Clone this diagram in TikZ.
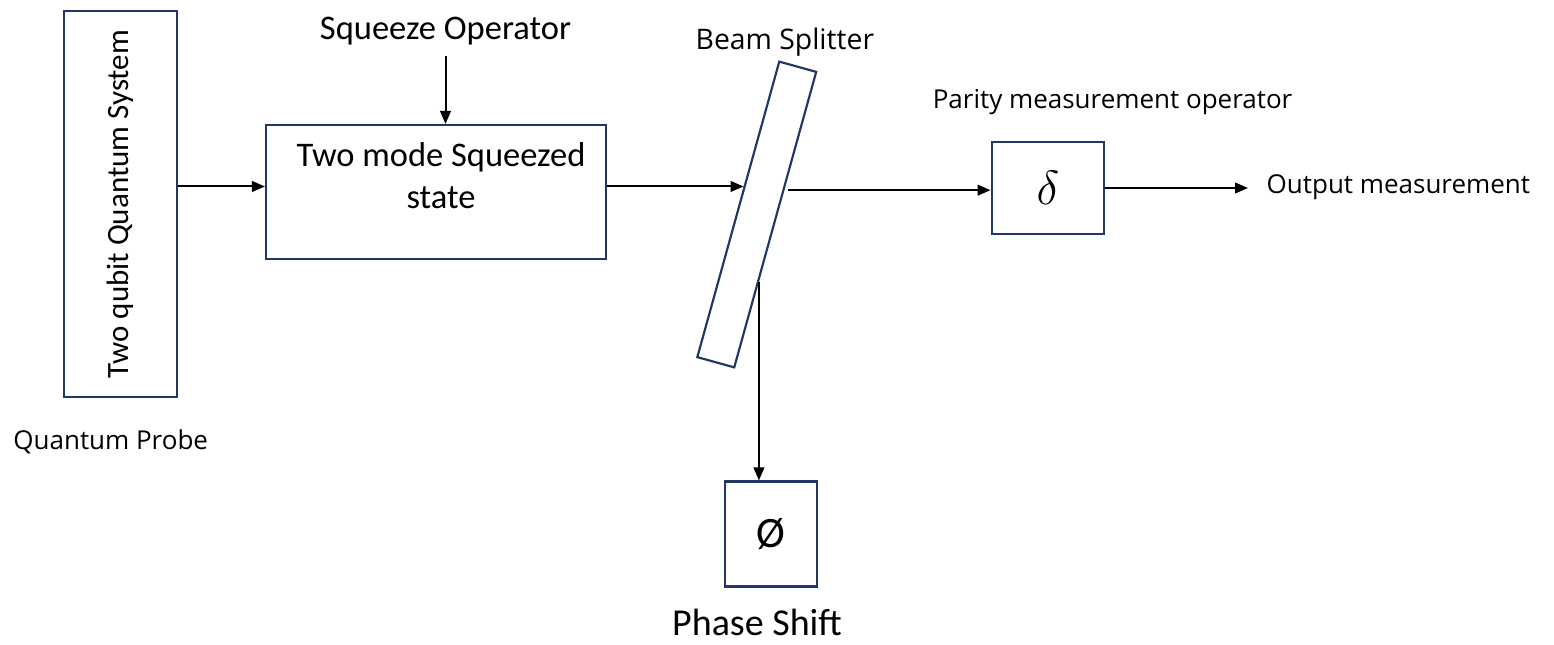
\documentclass[tikz,border=0pt]{standalone}
\usepackage{fontspec}
\setmainfont{Carlito}
\newfontfamily\segoefont{Open Sans}
\usetikzlibrary{arrows.meta,calc,positioning}
\definecolor{boxblue}{HTML}{1F3864}

\begin{document}
\begin{tikzpicture}[x=0.3pt,y=0.3pt,
		blk/.style={draw=boxblue, line width=0.65pt, inner sep=0pt},
		arr/.style={-{Triangle[length=3.9pt,width=3.2pt]}, line width=0.6pt},
		cal/.style={font=\fontsize{10.35}{12.6}\selectfont, inner sep=0pt},
		seg/.style={font=\segoefont\fontsize{7.8}{9.4}\selectfont, inner sep=0pt}]
		\useasboundingbox (0,0) rectangle (1554,-644);
		% boxes
		\node[blk, rotate=90, minimum width=115.8pt, minimum height=33.9pt, font=\fontsize{9.3}{11}\selectfont] (qs) at (120.5,-204) {Two qubit Quantum System};
		\node[blk, minimum width=102pt, minimum height=40.2pt,
			label={[cal, name=sqt, anchor=north, align=center, yshift=-5.4pt, xshift=1.5pt]north:Two mode Squeezed\\state}] (sq) at (436,-192) {};
		\node[blk, rotate=-15.5, minimum width=11.5pt, minimum height=92pt] (bs) at (756.75,-214.5) {};
		\node[blk, minimum width=33.8pt, minimum height=27.7pt, font=\fontsize{15}{15}\selectfont] (par) at (1048,-188) {$\delta$};
		\node[blk, minimum width=27.6pt, minimum height=31.5pt, font=\fontsize{13}{13}\selectfont] (ph) at (771,-534) {Ø};
		% labels
		\node[cal, anchor=base] (sqop) at (445.5,-40) {Squeeze Operator};
		\node[seg, anchor=base west, font=\segoefont\fontsize{8.5}{10}\selectfont] (bsl) at (695,-50) {Beam Splitter};
		\node[seg, anchor=base east] (parl) at (1293,-108) {Parity measurement operator};
		\node[seg, anchor=base west] (outl) at (1266,-193) {Output measurement};
		\node[seg, anchor=base west] (qpl) at (12.7,-449) {Quantum Probe};
		\node[cal, anchor=base, font=\fontsize{11.4}{13}\selectfont] (phl) at (757,-635) {Phase Shift};
		% points on the beam splitter
		\coordinate (bsin) at ($(bs.north west)!0.424!(bs.south west)$);
		\coordinate (bsout) at ($(bs.north east)!0.4!(bs.south east)$);
		\coordinate (bsdn) at ($(bs.north east)!0.71!(bs.south east)$);
		\coordinate (outp) at (1248,-188);
		% connectors
		\draw[arr] ([yshift=-3pt]sqop.south) -- (sqop.south |- sq.north);
		\draw[arr] (qs.south |- bsin) -- (sq.west |- bsin);
		\draw[arr] (sq.east |- bsin) -- (bsin);
		\draw[arr, shorten <=1pt] (bsout) -- (bsout -| par.west);
		\draw[arr] (par.east) -- (outp);
		\draw[arr] (bsdn) -- (bsdn |- ph.north);
	\end{tikzpicture}
\end{document}
